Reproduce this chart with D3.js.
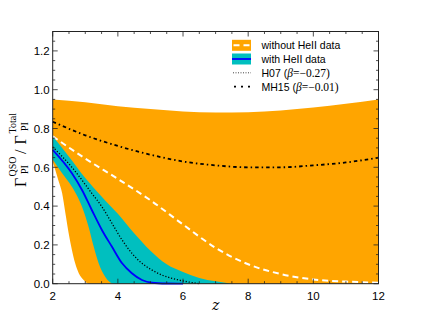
<!DOCTYPE html>
<html>
<head>
<meta charset="utf-8">
<script src="https://d3js.org/d3.v7.min.js"></script>
<style>
  body { margin: 0; background: #fff; }
  text { font-family: "Liberation Sans", Arial, sans-serif; }
</style>
</head>
<body>
<svg id="chart" width="421" height="316"></svg>
<script>
  // orange band (without HeII data)
  let orangeZ = [2, 3, 4, 5, 6, 7, 8, 9, 10, 11, 12];
  let orangeHi = [0.95, 0.935, 0.915, 0.9, 0.888, 0.882, 0.884, 0.893, 0.908, 0.927, 0.95];
  let orangeLoZ = [2, 2.08, 2.18, 2.29, 2.39, 2.49, 2.59, 2.69, 2.8, 2.95, 3.1, 12];
  let orangeLo = [0.63, 0.586, 0.53, 0.466, 0.363, 0.26, 0.174, 0.105, 0.054, 0.019, 0, 0];

  // teal band (with HeII data)
  let tealHiZ = [2, 2.5, 3, 3.5, 4, 4.5, 5, 5.5, 6, 6.5, 7, 7.5];
  let tealHi = [0.76, 0.655, 0.545, 0.45, 0.36, 0.26, 0.17, 0.1, 0.06, 0.03, 0.012, 0];
  let tealLoZ = [2, 2.29, 2.59, 2.9, 3.1, 3.26, 3.41, 3.61, 3.87, 7.5];
  let tealLo = [0.64, 0.569, 0.5, 0.397, 0.294, 0.19, 0.105, 0.036, 0, 0];

  // median curves
  let withoutZ = [2, 3, 4, 5, 6, 7, 8, 9, 10, 11, 12];
  let withoutVal = [0.76, 0.645, 0.54, 0.43, 0.305, 0.185, 0.1, 0.05, 0.022, 0.011, 0.005];
  let withZ = [2, 2.59, 2.9, 3.2, 3.51, 3.82, 4.13, 4.43, 4.74, 5.05, 5.5, 6];
  let withVal = [0.69, 0.569, 0.483, 0.38, 0.277, 0.19, 0.105, 0.054, 0.019, 0.005, 0.001, 0];

  // models
  let h07Z = [2, 2.59, 3.2, 3.51, 3.82, 4.13, 4.43, 4.74, 5.05, 5.35, 5.87, 6.5];
  let h07Val = [0.705, 0.6, 0.466, 0.397, 0.311, 0.225, 0.157, 0.105, 0.07, 0.045, 0.019, 0];
  let mh15Z = [2, 3, 4, 5, 6, 7, 8, 9, 10, 11, 12];
  let mh15Val = [0.835, 0.765, 0.71, 0.665, 0.63, 0.61, 0.60, 0.60, 0.61, 0.625, 0.65];

  let xTicks = [2, 4, 6, 8, 10, 12];
  let yTicks = [0.0, 0.2, 0.4, 0.6, 0.8, 1.0, 1.2];
  let legendLabels = ["without HeII data", "with HeII data", "H07 (", "MH15 ("];
  let legendBetas = [null, null, "−0.27", "−0.01"];

  let svg = d3.select("#chart");
  let mLeft = 52.7, mRight = 378.5, mTop = 31.5, mBottom = 283.7;

  let x = d3.scaleLinear().domain([2, 12]).range([mLeft, mRight]);
  let y = d3.scaleLinear().domain([0, 1.3]).range([mBottom, mTop]);

  let line = d3.line().x(d => x(d[0])).y(d => y(d[1])).curve(d3.curveMonotoneX);

  // band as closed polygon: top edge then bottom edge reversed
  let bandPath = (hiPts, loPts) =>
    line(hiPts) + "L" + line(loPts.slice().reverse()).slice(1) + "Z";

  let orangePts = orangeZ.map((z, i) => [z, orangeHi[i]]);
  let orangeLoPts = orangeLoZ.map((z, i) => [z, orangeLo[i]]);
  svg.append("path")
    .attr("d", bandPath(orangePts, orangeLoPts))
    .attr("fill", "#ffa500");

  let tealHiPts = tealHiZ.map((z, i) => [z, tealHi[i]]);
  let tealLoPts = tealLoZ.map((z, i) => [z, tealLo[i]]);
  svg.append("path")
    .attr("d", bandPath(tealHiPts, tealLoPts))
    .attr("fill", "#00bfbf");

  svg.append("path")
    .attr("d", line(withoutZ.map((z, i) => [z, withoutVal[i]])))
    .attr("fill", "none").attr("stroke", "#fff")
    .attr("stroke-width", 2).attr("stroke-dasharray", "6,4");

  svg.append("path")
    .attr("d", line(withZ.map((z, i) => [z, withVal[i]])))
    .attr("fill", "none").attr("stroke", "#0000ff")
    .attr("stroke-width", 1.8);

  svg.append("path")
    .attr("d", line(h07Z.map((z, i) => [z, h07Val[i]])))
    .attr("fill", "none").attr("stroke", "#000")
    .attr("stroke-width", 1.3).attr("stroke-dasharray", "1.2,1.8");

  svg.append("path")
    .attr("d", line(mh15Z.map((z, i) => [z, mh15Val[i]])))
    .attr("fill", "none").attr("stroke", "#000")
    .attr("stroke-width", 1.8).attr("stroke-dasharray", "3.5,3,1.5,3");

  // ticks (inside, all four sides)
  let tickG = svg.append("g").attr("stroke", "#222").attr("stroke-width", 0.8);
  let xMinor = d3.range(2, 12.01, 0.5);
  let yMinor = d3.range(0, 1.301, 0.05);
  xMinor.forEach(v => {
    let len = xTicks.includes(v) ? 5 : 2.5;
    tickG.append("line").attr("x1", x(v)).attr("x2", x(v)).attr("y1", mBottom).attr("y2", mBottom - len);
    tickG.append("line").attr("x1", x(v)).attr("x2", x(v)).attr("y1", mTop).attr("y2", mTop + len);
  });
  yMinor.forEach(v => {
    let major = yTicks.some(t => Math.abs(t - v) < 1e-6);
    let len = major ? 5 : 2.5;
    tickG.append("line").attr("x1", mLeft).attr("x2", mLeft + len).attr("y1", y(v)).attr("y2", y(v));
    tickG.append("line").attr("x1", mRight).attr("x2", mRight - len).attr("y1", y(v)).attr("y2", y(v));
  });

  // frame
  svg.append("rect")
    .attr("x", mLeft).attr("y", mTop)
    .attr("width", mRight - mLeft).attr("height", mBottom - mTop)
    .attr("fill", "none").attr("stroke", "#222").attr("stroke-width", 1);

  // tick labels
  svg.selectAll(".xl").data(xTicks).enter().append("text")
    .attr("x", d => x(d)).attr("y", mBottom + 16)
    .attr("text-anchor", "middle").attr("font-size", 11.5).text(d => d);
  svg.selectAll(".yl").data(yTicks).enter().append("text")
    .attr("x", mLeft - 3).attr("y", d => y(d) + 4.3)
    .attr("text-anchor", "end").attr("font-size", 11.5).text(d => d.toFixed(1));

  // axis labels
  svg.append("text")
    .attr("x", (mLeft + mRight) / 2).attr("y", 310)
    .attr("text-anchor", "middle")
    .style("font-family", "'DejaVu Serif', 'Liberation Serif', serif")
    .style("font-style", "italic").attr("font-size", 14).text("z");

  // y label: Γ^QSO_PI / Γ^Total_PI, pieces placed in rotated coordinates
  let ylab = svg.append("g")
    .attr("transform", "translate(26,154) rotate(-90)");
  let pieces = [
    { t: "Γ", x: -33, y: 0, s: 16 },
    { t: "QSO", x: -22.5, y: -10.5, s: 10 },
    { t: "PI", x: -20, y: 2, s: 10 },
    { t: "/", x: 0, y: 0, s: 16 },
    { t: "Γ", x: 9.5, y: 0, s: 16 },
    { t: "Total", x: 20.5, y: -10.5, s: 10 },
    { t: "PI", x: 23, y: 2, s: 10 }
  ];
  pieces.forEach(p => {
    ylab.append("text").attr("x", p.x).attr("y", p.y)
      .attr("font-size", p.s).style("font-family", "'Liberation Serif', serif").text(p.t);
  });

  // legend
  let lx = 232, lw = 19, ly = [45.3, 59, 72.8, 86.6], tx = 261.5;
  svg.append("rect").attr("x", lx).attr("y", ly[0] - 5.5).attr("width", lw).attr("height", 11).attr("fill", "#ffa500");
  svg.append("line").attr("x1", lx + 1.5).attr("x2", lx + lw).attr("y1", ly[0]).attr("y2", ly[0])
    .attr("stroke", "#fff").attr("stroke-width", 2).attr("stroke-dasharray", "6,4");
  svg.append("rect").attr("x", lx).attr("y", ly[1] - 5.5).attr("width", lw).attr("height", 11).attr("fill", "#00bfbf");
  svg.append("line").attr("x1", lx).attr("x2", lx + lw).attr("y1", ly[1]).attr("y2", ly[1])
    .attr("stroke", "#0000ff").attr("stroke-width", 1.8);
  svg.append("line").attr("x1", lx + 1).attr("x2", lx + lw).attr("y1", ly[2]).attr("y2", ly[2])
    .attr("stroke", "#444").attr("stroke-width", 1).attr("stroke-dasharray", "1,1.5");
  svg.append("line").attr("x1", lx + 2).attr("x2", lx + lw).attr("y1", ly[3]).attr("y2", ly[3])
    .attr("stroke", "#000").attr("stroke-width", 1.8).attr("stroke-dasharray", "2,5");

  legendLabels.forEach((lab, i) => {
    let t = svg.append("text").attr("x", tx).attr("y", ly[i] + 4).attr("font-size", 10.5);
    t.append("tspan").text(lab);
    if (legendBetas[i]) {
      t.append("tspan").attr("font-size", 11.5).style("font-family", "'Liberation Serif', serif").style("font-style", "italic").text("β");
      t.append("tspan").attr("font-size", 11.5).style("font-family", "'Liberation Serif', serif").text("=" + legendBetas[i] + ")");
    }
  });
</script>
</body>
</html>
